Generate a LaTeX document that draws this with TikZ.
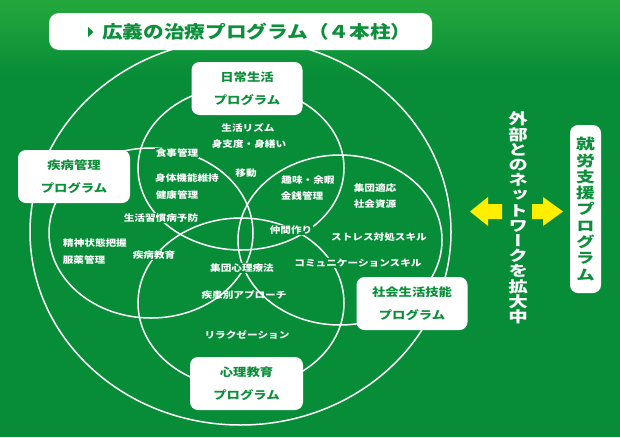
\documentclass[tikz,border=0pt]{standalone}
\usepackage{fontspec}
\setmainfont{Noto Sans CJK JP}[FakeStretch=1.18]
\newfontfamily\tatefont{Noto Sans CJK JP}[FakeStretch=1.3,RawFeature=+vert]
\usetikzlibrary{positioning}
\definecolor{field}{HTML}{078D37}
\definecolor{fieldtop}{HTML}{24A83D}
\definecolor{leaf}{HTML}{0B8F39}
\definecolor{beam}{HTML}{FFEE00}
\newcommand\tightlines{\setlength\lineskiplimit{-20pt}\setlength\lineskip{0pt}}
\tikzset{
  ring/.style={draw=white, line width=1.5pt},
  prog/.style={fill=white, rounded corners=8pt, minimum width=111pt, minimum height=53pt,
    inner sep=0pt, text=leaf, align=center, font=\bfseries\fontsize{11.3}{23.5}\selectfont},
  lbl/.style={fill=field, inner sep=1pt, text=white, font=\bfseries\fontsize{9}{9}\selectfont},
  tate/.style={inner sep=0pt, align=center, font=\tatefont\bfseries\fontsize{15}{15.2}\selectfont\tightlines},
}

\begin{document}
\begin{tikzpicture}[x=1pt,y=-1pt]
  \useasboundingbox (0,0) rectangle (620,437);
  \fill[field] (0,0) rectangle (620,437);
  \shade[top color=fieldtop, bottom color=field] (0,0) rectangle (620,75);

  \draw[ring] (240.5,232) ellipse [x radius=210.5, y radius=193];
  \draw[ring] (241,168) ellipse [x radius=103, y radius=82];
  \draw[ring] (151,233) ellipse [x radius=102, y radius=85];
  \draw[ring] (340,240) ellipse [x radius=102, y radius=85];
  \draw[ring] (241,303) ellipse [x radius=103, y radius=85];

  \node[fill=white, rounded corners=10pt, minimum width=383pt, minimum height=37pt] (title) at (240.5,31.5) {};
  \fill[leaf] (88,27) -- (93.5,32) -- (88,37) -- cycle;
  \node[anchor=west, inner sep=0pt, text=leaf, font=\bfseries\fontsize{17.5}{17.5}\selectfont] (titletext) at (102,32) {広義の治療プログラム（４本柱）};

  \node[prog] (daily) at (247,88.5) {日常生活\\プログラム};
  \node[prog, minimum width=112pt] (disease) at (74,176.5) {疾病管理\\プログラム};
  \node[prog] (social) at (412,303.5) {社会生活技能\\プログラム};
  \node[prog, minimum width=113pt] (psycho) at (246.5,383.5) {心理教育\\プログラム};

  \node[lbl] (rhythm) at (248,128) {生活リズム};
  \node[lbl] (grooming) at (249,144) {身支度・身繕い};
  \node[lbl] (meal) at (177,153) {食事管理};
  \node[lbl] (body) at (187,178) {身体機能維持};
  \node[lbl] (health) at (177,195) {健康管理};
  \node[lbl] (move) at (246,173) {移動};
  \node[lbl] (hobby) at (308,180) {趣味・余暇};
  \node[lbl] (money) at (302,196) {金銭管理};
  \node[lbl] (group) at (375,188) {集団適応};
  \node[lbl] (resource) at (375,204) {社会資源};
  \node[lbl] (lifestyle) at (161,218) {生活習慣病予防};
  \node[lbl] (peers) at (291,230) {仲間作り};
  \node[lbl] (stress) at (379,237) {ストレス対処スキル};
  \node[lbl] (mental) at (95,243) {精神状態把握};
  \node[lbl] (medicine) at (84,260) {服薬管理};
  \node[lbl] (education) at (154,255) {疾病教育};
  \node[lbl] (therapy) at (242,268) {集団心理療法};
  \node[lbl] (communication) at (358,263) {コミュニケーションスキル};
  \node[lbl, fill=none] (approach) at (244,295) {疾患別アプローチ};
  \node[lbl] (relax) at (247,335) {リラクゼーション};

  \fill[beam] (470,211.5) -- (488,197) -- (488,204) -- (502,204) -- (502,219) -- (488,219) -- (488,226) -- cycle;
  \fill[beam] (563,211.5) -- (543,197) -- (543,204) -- (532,204) -- (532,219) -- (543,219) -- (543,226) -- cycle;

  \node[tate, text=white] (network) at (518,218) {外\\部\\と\\の\\ネ\\ッ\\ト\\ワ\\ー\\ク\\を\\拡\\大\\中};
  \node[tate, fill=white, rounded corners=8pt, minimum width=31pt, minimum height=168pt, text=leaf,
    font=\tatefont\bfseries\fontsize{14.5}{16.3}\selectfont\tightlines] (shuro) at (585.5,209) {就\\労\\支\\援\\プ\\ロ\\グ\\ラ\\ム};
\end{tikzpicture}
\end{document}
